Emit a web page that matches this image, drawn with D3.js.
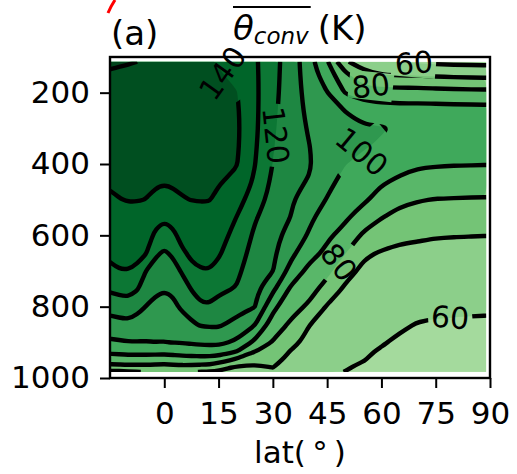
<!DOCTYPE html>
<html><head><meta charset="utf-8">
<script src="https://cdn.jsdelivr.net/npm/d3@7"></script>
<style>
body{margin:0;background:#fff;}
svg{display:block;font-family:"DejaVu Sans",sans-serif;}
.tick text{font-size:31px;fill:#000;}
.tick line{stroke:#000;stroke-width:2;}
.clabel{font-size:30px;fill:#000;}
</style></head><body><div id="chart"></div>
<script>
// grid: latitude columns, pressure rows (hPa)
const lats = [-15,-12.5,-10,-7.5,-5,-2.5,0,2.5,5,7.5,10,12.5,15,20,25,30,35,40,45,50,55,60,65,70,75,80,85,89];
const levs = [113,150,200,250,300,350,400,450,500,550,600,650,700,750,800,850,900,925,950,970,983];
// theta_conv (K), one column per latitude, top to bottom
const theta = [
  [151,149.3,148.5,147.5,146.5,145,143,141,139,136.5,134,132,128,121.5,114,106,98.5,92,85,76,68],
  [150.6,149.1,148.2,147.2,146.2,144.8,143,141.3,139.8,137,134.5,132.2,129.7,122.5,115,106.8,99,92.5,85.2,76.5,68.5],
  [150.3,149,148,147,146,144.5,143,141.5,140.3,137.5,135,132.5,129.8,123.5,116,107.5,99.5,93,85.5,77,69],
  [150,148.7,147.8,146.8,145.8,144.3,142.8,141.3,140.3,137.2,134.5,132.3,128.5,120.7,113,106.3,99.7,93,85.5,77,69.8],
  [149.8,148.5,147.5,146.5,145.5,144,142.5,141.2,139.9,137,134,130.2,119.8,115.5,109.7,105,99.6,93,85.5,77,70.3],
  [149.4,148.2,147.2,146.2,145.2,143.7,142.3,141,138.3,133.5,128.5,121.5,116.5,111.6,108,104.3,99.9,93,85,76.8,70.7],
  [149,148,147,146,145,143.5,142,140.6,136.5,131.2,125,118.8,114.8,110.4,107,103.5,99.8,93,84.5,76.5,71],
  [148.8,147.8,146.8,145.8,144.8,143.3,142,141,138.2,133.3,128.3,121.5,116.7,111.5,108.3,104.7,100.2,93.5,85.2,77,71.2],
  [148.5,147.5,146.5,145.5,144.5,143,142,141,139.7,136.3,132.9,128.7,121,116,111.6,106,100.5,94,86,77.5,71],
  [148,147,146,145.2,144.3,143,142.1,141.1,140.1,137.3,134.2,131.6,128,120.4,114.8,108.5,101.2,94.5,86,77,70.5],
  [147.5,146.5,145.5,144.8,144,143,142.2,141.2,140.3,137.8,135,132.4,129.5,124.2,118.5,110.8,101.8,95,86,76.5,69.8],
  [143.5,143.6,143.4,143.2,142.9,142.3,141.7,140.9,140.2,137.3,134.6,132.2,129.8,124.5,119,111.3,102,95.2,86,76,69.5],
  [139.5,140.6,141.3,141.7,141.8,141.6,141.2,140.5,138.6,136.2,133.5,131,127.5,121.7,117,111.5,102,95.5,84,73,69],
  [136.5,138.5,140.3,141.2,141.5,141.3,140.4,138.2,133.5,129.8,127,124.5,122,119.5,114,106.8,98.5,90.3,78,69,66],
  [131.5,131.8,132,132,131.8,131.2,130.3,128.5,125.5,121,118.5,116.5,114.5,112.5,110.3,100.5,88,80.3,72.5,68.5,67],
  [123,122.8,122.5,122,121.5,120.7,119.8,118,116,114.5,113,111.8,110.2,102,92.5,85.5,79.3,76.5,73.5,70.2,68],
  [115.5,115.3,115,114.5,114,113.3,112.5,111.8,111,109.8,106.5,102.5,96.5,88.5,83.5,78.5,73,69.5,66.5,64.5,63],
  [104,105,106.5,108,109.3,110.2,110.8,109.5,105.5,102,99,93.5,87.5,83.5,78.5,70.3,67,65.5,64,63,62],
  [91,95,100.2,103.5,105.5,106,105,102.5,99.5,95.5,91.5,88,82.5,76.5,69.2,66.5,64.5,63.5,62.5,61.5,61],
  [71,82.5,89.5,99.8,102.5,102,100.3,97,94,91.3,87,80.3,73.5,68.5,66,64,62.5,61.8,61,60.5,59.9],
  [66,72.5,85.5,96,101,100.8,97.5,94.5,91.5,85.5,78.5,71.5,68,66,64.5,63,61.5,60.8,60.2,59,58.5],
  [62,70.2,84.5,94.5,100.8,98.8,94.5,91,86.5,80.3,75,69.2,66.8,65,63.5,62.2,60.5,59.5,58.5,57.5,57],
  [59.8,69.5,84,94,98.5,97,92.8,88.5,81.8,77.5,72,68,66,64.5,63,61,59,58,57,56.5,56],
  [58.5,69.5,84,94,98,96.5,91.2,86.5,80.5,76.3,71.2,67.8,65.8,64.2,62,59.7,57.5,56.5,55.5,55,54.5],
  [58,68.5,83.5,94,97.8,96,90.8,85.5,79.7,75.5,70.5,67.5,65.5,63.8,61.7,59.2,57,56,55,54.3,54],
  [57.5,68,83,93.8,97.6,95.8,90.5,85.2,79.5,75.2,70.3,67.3,65.3,63.6,61.5,59,56.8,55.7,54.7,54,53.5],
  [57.3,67.7,82.8,93.6,97.5,95.7,90.4,85,79.3,75,70.2,67.2,65.2,63.5,61.4,58.8,56.6,55.5,54.5,53.8,53.3],
  [57.2,67.5,82.7,93.5,97.4,95.6,90.3,85,79.2,75,70.1,67.1,65.1,63.4,61.3,58.7,56.5,55.4,54.4,53.7,53.2]
];
const fillLevels = d3.range(50, 151, 10);
const lineLevels = d3.range(60, 151, 10);
// where the inline labels sit (lat, hPa)
const labelSpots = [
  {lev:140, lat:15.5, p:150},
  {lev:120, lat:31, p:320},
  {lev:100, lat:55, p:372},
  {lev:80, lat:57, p:190},
  {lev:80, lat:47.5, p:670},
  {lev:60, lat:69, p:116},
  {lev:60, lat:79, p:831}
];
const xTicks = [0,15,30,45,60,75,90];
const yTicks = [200,400,600,800,1000];
const greensHex = ["#f7fcf5","#e5f5e0","#c7e9c0","#a1d99b","#74c476","#41ab5d","#238b45","#006d2c","#00441b"];

const W = 517, H = 474;
const svg = d3.select("#chart").append("svg").attr("width", W).attr("height", H);

const x = d3.scaleLinear().domain([-15, 90]).range([110, 490]);
const y = d3.scaleLinear().domain([100, 1000]).range([57, 378]);
const greens = d3.scaleLinear().domain(d3.range(9).map(i => i / 8)).range(greensHex).clamp(true);
const bandColor = t => greens((t + 5) / 150);

const nx = lats.length, ny = levs.length;
let grid = [];
for (let j = 0; j < ny; j++) for (let i = 0; i < nx; i++) grid.push(theta[i][j]);

// grid index -> lat / p (non uniform spacing)
const ix = d3.scaleLinear().domain(d3.range(nx)).range(lats).clamp(true);
const iy = d3.scaleLinear().domain(d3.range(ny)).range(levs).clamp(true);
const toPx = c => [x(ix(c[0] - 0.5)), y(iy(c[1] - 0.5))];

const cont = d3.contours().size([nx, ny]).thresholds(fillLevels)(grid);
const onB = p => p[0] === 0 || p[0] === nx || p[1] === 0 || p[1] === ny;

const defs = svg.append("defs");
const x0 = x(lats[0]), x1 = x(lats[nx - 1]), y0 = y(levs[0]), y1 = y(levs[ny - 1]);
defs.append("clipPath").attr("id", "dataClip").append("rect")
  .attr("x", x0).attr("y", y0).attr("width", x1 - x0).attr("height", y1 - y0);

// filled bands (border points repeated so the smoothing keeps the corners)
const ringPath = d3.line().curve(d3.curveBasisClosed);
const gFill = svg.append("g").attr("clip-path", "url(#dataClip)");
gFill.append("rect").attr("x", x0).attr("y", y0).attr("width", x1 - x0).attr("height", y1 - y0)
  .attr("fill", bandColor(fillLevels[0]));
gFill.selectAll("path").data(cont.slice(1)).join("path")
  .attr("fill", d => bandColor(d.value))
  .attr("fill-rule", "evenodd")
  .attr("d", d => d.coordinates.map(poly => poly.map(r => {
    let pts = [];
    r.slice(0, -1).forEach(p => { pts.push(toPx(p)); if (onB(p)) { pts.push(toPx(p)); pts.push(toPx(p)); } });
    return ringPath(pts);
  }).join("")).join(""));

// contour lines: drop the parts of each ring lying on the grid border
function ringLines(ring) {
  let pts = ring.slice(0, -1), n = pts.length;
  let s = pts.findIndex(onB);
  if (s < 0) return [{pts: pts, closed: true}];
  let out = [], cur = [];
  for (let k = 0; k <= n; k++) {
    let p = pts[(s + k) % n];
    if (onB(p)) { if (cur.length > 1) out.push({pts: cur, closed: false}); cur = []; }
    else cur.push(p);
  }
  if (cur.length > 1) out.push({pts: cur, closed: false});
  return out;
}
let lines = [];
lineLevels.forEach(lv => {
  let c = cont.find(d => d.value === lv);
  c.coordinates.forEach(poly => poly.forEach(ring => {
    ringLines(ring).forEach(l => lines.push({lev: lv, pts: l.pts.map(toPx), closed: l.closed}));
  }));
});

// labels (the text turns the mirrored way, as in the picture)
const mask = defs.append("mask").attr("id", "labelMask").attr("maskUnits", "userSpaceOnUse")
  .attr("x", 0).attr("y", 0).attr("width", W).attr("height", H);
mask.append("rect").attr("width", W).attr("height", H).attr("fill", "#fff");
const labelData = [];

labelSpots.forEach(sp => {
  let tx = x(sp.lat), ty = y(sp.p);
  let best = null;
  lines.filter(l => l.lev === sp.lev).forEach(l => {
    let P = l.pts, m = l.closed ? P.length : P.length - 1;
    for (let k = 0; k < m; k++) {
      let a = P[k], b = P[(k + 1) % P.length];
      let dx = b[0] - a[0], dy = b[1] - a[1], L2 = dx * dx + dy * dy || 1;
      let t = Math.max(0, Math.min(1, ((tx - a[0]) * dx + (ty - a[1]) * dy) / L2));
      let qx = a[0] + t * dx, qy = a[1] + t * dy;
      let dist = (qx - tx) ** 2 + (qy - ty) ** 2;
      if (!best || dist < best.dist) best = {dist, qx, qy, ang: Math.atan2(dy, dx) * 180 / Math.PI};
    }
  });
  if (!best) return;
  let ang = best.ang;
  if (ang > 90) ang -= 180;
  if (ang < -90) ang += 180;
  let textAng = Math.abs(ang) > 84 ? 90 : -ang;
  labelData.push({lev: sp.lev, qx: best.qx, qy: best.qy, ang, textAng});
});

const lineGen = d3.line().curve(d3.curveBasis);
const lineGenC = d3.line().curve(d3.curveBasisClosed);
svg.append("g").attr("clip-path", "url(#dataClip)").attr("mask", "url(#labelMask)")
  .selectAll("path").data(lines).join("path")
  .attr("fill", "none").attr("stroke", "#000").attr("stroke-width", 4.4)
  .attr("stroke-linejoin", "round")
  .attr("d", d => d.closed ? lineGenC(d.pts) : lineGen(d.pts));

const gLab = svg.append("g");
labelData.forEach(l => {
  let t = gLab.append("text").attr("class", "clabel")
    .attr("text-anchor", "middle").attr("dominant-baseline", "central")
    .attr("transform", `translate(${l.qx},${l.qy}) rotate(${l.textAng})`)
    .text(l.lev);
  let w = t.node().getComputedTextLength() + 6;
  mask.append("rect").attr("x", -w / 2).attr("y", -14).attr("width", w).attr("height", 28)
    .attr("fill", "#000")
    .attr("transform", `translate(${l.qx},${l.qy}) rotate(${l.ang})`);
});

// frame and axes
svg.append("rect").attr("x", 110).attr("y", 57).attr("width", 380).attr("height", 321)
  .attr("fill", "none").attr("stroke", "#000").attr("stroke-width", 2.4);

let ax = svg.append("g").attr("transform", "translate(0,378)")
  .call(d3.axisBottom(x).tickValues(xTicks).tickSize(10).tickPadding(14).tickFormat(d3.format("d")));
ax.select(".domain").remove();
let ay = svg.append("g").attr("transform", "translate(110,0)")
  .call(d3.axisLeft(y).tickValues(yTicks).tickSize(10).tickPadding(10).tickFormat(d3.format("d")));
ay.select(".domain").remove();
svg.selectAll(".tick text").attr("font-family", "DejaVu Sans").attr("font-size", 31);

svg.append("text").attr("x", 300).attr("y", 463).attr("text-anchor", "middle")
  .attr("font-size", 31).text("lat(\u2009\u00b0\u2009)");

// title
svg.append("text").attr("x", 111).attr("y", 45).attr("font-size", 34).text("(a)");
let th = svg.append("text").attr("x", 233).attr("y", 40).attr("font-size", 34).attr("font-style", "italic").text("\u03b8");
let thW = th.node().getComputedTextLength();
let sub = svg.append("text").attr("x", 233 + thW).attr("y", 44).attr("font-size", 23).attr("font-style", "italic").text("conv");
let subW = sub.node().getComputedTextLength();
svg.append("line").attr("x1", 233).attr("x2", 233 + thW + subW + 2).attr("y1", 7).attr("y2", 7)
  .attr("stroke", "#000").attr("stroke-width", 2);
svg.append("text").attr("x", 233 + thW + subW + 9).attr("y", 40).attr("font-size", 34).text("(K)");

// red stroke at the corner
svg.append("path").attr("d", "M115,0 Q111,6 108,13").attr("fill", "none")
  .attr("stroke", "#f00").attr("stroke-width", 3);
</script></body></html>
